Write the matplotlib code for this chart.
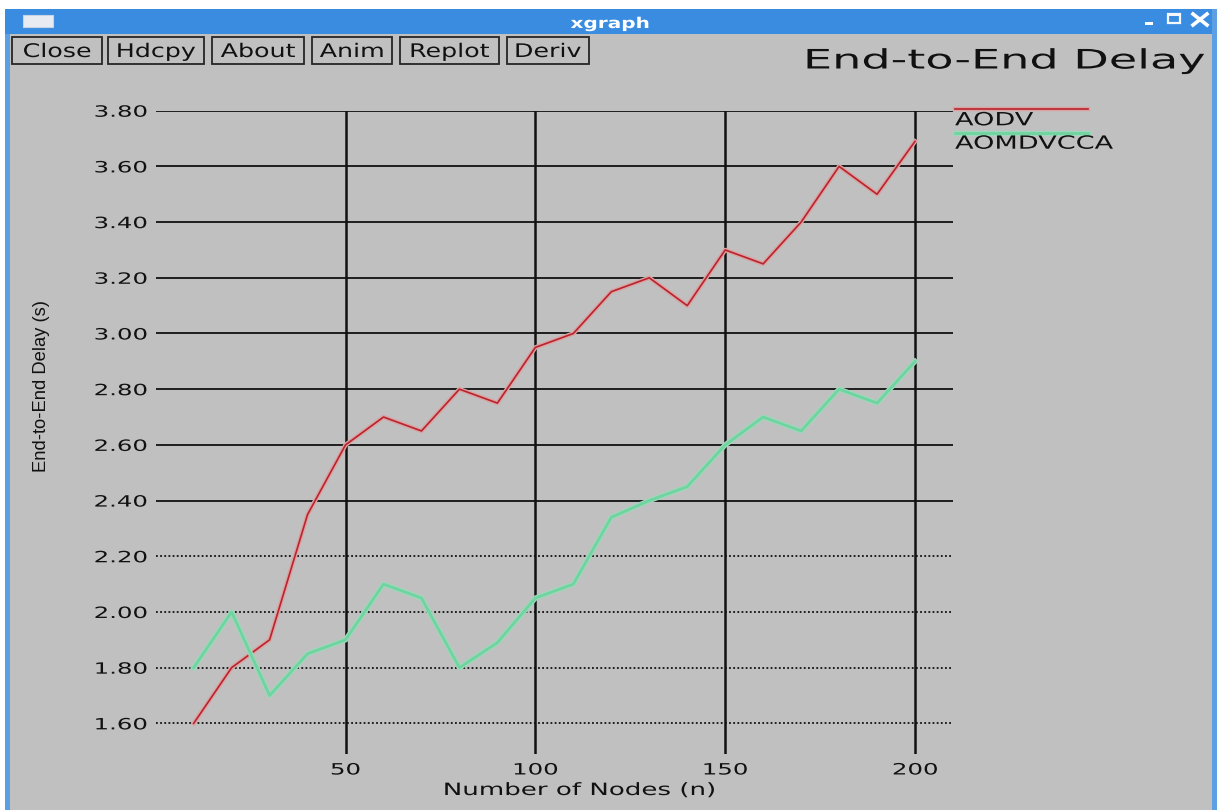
import matplotlib
matplotlib.use("Agg")
import matplotlib.pyplot as plt
from matplotlib import patheffects
from matplotlib.lines import Line2D
from matplotlib.patches import Rectangle
from matplotlib.transforms import Affine2D

# delay results per protocol
nodes = [10, 20, 30, 40, 50, 60, 70, 80, 90, 100,
         110, 120, 130, 140, 150, 160, 170, 180, 190, 200]
aodv = [1.60, 1.80, 1.90, 2.35, 2.60, 2.70, 2.65, 2.80, 2.75, 2.95,
        3.00, 3.15, 3.20, 3.10, 3.30, 3.25, 3.40, 3.60, 3.50, 3.69]
aomdvcca = [1.80, 2.00, 1.70, 1.85, 1.90, 2.10, 2.05, 1.80, 1.89, 2.05,
            2.10, 2.34, 2.40, 2.45, 2.60, 2.70, 2.65, 2.80, 2.75, 2.90]
series_names = ["AODV", "AOMDVCCA"]

yticks = [1.60, 1.80, 2.00, 2.20, 2.40, 2.60, 2.80, 3.00, 3.20, 3.40, 3.60, 3.80]
ytick_labels = ["%.2f" % v for v in yticks]
xticks = [50, 100, 150, 200]
xtick_labels = ["50", "100", "150", "200"]
buttons = ["Close", "Hdcpy", "About", "Anim", "Replot", "Deriv"]

W, H = 1217, 810
GRAY = "#c0c0c0"
RED = "#b8232d"
GREEN = "#6fd4a0"
INK = "#111111"


class Widen(patheffects.AbstractPathEffect):
    """Draw the glyphs of a text stretched sideways (xgraph's wide X font)."""

    def __init__(self, sx, anchor="left"):
        super().__init__()
        self.sx = sx
        self.anchor = anchor

    def draw_path(self, renderer, gc, tpath, affine, rgbFace=None):
        ext = tpath.get_extents()
        x0 = {"left": 0.0, "center": (ext.x0 + ext.x1) / 2, "right": ext.x1}[self.anchor]
        t = Affine2D().translate(-x0, 0).scale(self.sx, 1).translate(x0, 0)
        renderer.draw_path(gc, tpath, t + affine, rgbFace)


fig = plt.figure(figsize=(W / 100, H / 100), dpi=100, facecolor="white")
# pixel coordinates, origin at the top-left corner of the window
pix = Affine2D().scale(1 / W, -1 / H).translate(0, 1) + fig.transFigure


def box(x0, y0, x1, y1, z=-2, **kw):
    fig.add_artist(Rectangle((x0, y0), x1 - x0, y1 - y0, transform=pix, zorder=z, **kw))


def label(x, y, s, size, sx, ha="left", **kw):
    t = fig.text(x, y, s, transform=pix, fontsize=size, ha=ha, va="baseline",
                 family="DejaVu Sans", **kw)
    t.set_path_effects([Widen(sx, ha)])
    return t


# window frame, title bar and client area
box(5, 9, W, H, facecolor="#5d9fe3", edgecolor="none", z=-3)
box(5, 9, 1212, 34, facecolor="#3a8ce0", edgecolor="none")
box(10, 34, 1212, H, facecolor=GRAY, edgecolor="none")
box(23, 15, 53, 27, facecolor="#e8ecf2", edgecolor="#c8d4e4", lw=0.8, z=-1)
label(610, 28, "xgraph", 10.7, 1.35, ha="center", color="white", fontweight="bold")

# minimise / maximise / close
box(1145, 22, 1153, 25, facecolor="white", edgecolor="none", z=-1)
box(1168, 14, 1180, 23, facecolor="none", edgecolor="#f4f7fb", lw=1.6, z=-1)
box(1168, 14, 1180, 16, facecolor="#f4f7fb", edgecolor="none", z=-1)
fig.add_artist(Line2D([1193, 1207], [14, 25], transform=pix, color="white", lw=2.6))
fig.add_artist(Line2D([1193, 1207], [25, 14], transform=pix, color="white", lw=2.6))

# button row
button_left = [12, 108, 212, 312, 400, 507]
button_right = [102, 204, 304, 392, 499, 589]
for name, x0, x1 in zip(buttons, button_left, button_right):
    box(x0, 37, x1, 64, facecolor=GRAY, edgecolor="#262626", lw=1.3, z=-1)
    label((x0 + x1) / 2, 57, name, 13.5, 1.35, ha="center", color=INK)

label(803, 68.5, "End-to-End Delay", 19.3, 1.72, color=INK)

# plotting area
ax = fig.add_axes([155.7 / W, 1 - 754 / H, 797.3 / W, (754 - 110.7) / H])
ax.set_facecolor("none")
for s in ax.spines.values():
    s.set_visible(False)
ax.set_xlim(0, 210)
ax.set_ylim(1.49, 3.80)

for y in yticks:
    ls = "-" if y >= 2.4 else (0, (1, 1.3))
    ax.axhline(y, color=INK, lw=1.3, ls=ls, zorder=1)
for x in xticks:
    ax.axvline(x, color=INK, lw=1.8, zorder=1)

red_fx = [patheffects.Stroke(linewidth=3.2, foreground="#dba2a2"), patheffects.Normal()]
green_fx = [patheffects.Stroke(linewidth=3.8, foreground="#9ed8ba"), patheffects.Normal()]
ax.plot(nodes, aodv, color=RED, lw=1.2, path_effects=red_fx, zorder=3)
ax.plot(nodes, aomdvcca, color=GREEN, lw=2.0, path_effects=green_fx, zorder=3)

ax.set_yticks(yticks, labels=ytick_labels)
ax.set_xticks(xticks, labels=xtick_labels)
ax.tick_params(length=0, labelsize=11.2, labelcolor=INK)
ax.tick_params(axis="y", pad=6.3)
ax.tick_params(axis="x", pad=6.1)
for t in ax.get_yticklabels():
    t.set_path_effects([Widen(1.57, "right")])
for t in ax.get_xticklabels():
    t.set_path_effects([Widen(1.57, "center")])

ax.set_xlabel("Number of Nodes (n)", fontsize=12.2, color=INK)
ax.xaxis.label.set_va("baseline")
ax.xaxis.label.set_path_effects([Widen(1.54, "center")])
ax.xaxis.set_label_coords((579 - 155.7) / 797.3, -(795 - 754) / (754 - 110.7))

ax.set_ylabel("End-to-End Delay (s)", fontsize=13.2, color=INK, family="Liberation Sans")
ax.yaxis.label.set_va("center")
ax.yaxis.set_label_coords((42 - 155.7) / 797.3, (754 - 386) / (754 - 110.7))

# legend: a coloured bar above each name
for name, color, fx, lw, y in [(series_names[0], RED, red_fx, 1.2, 109.3),
                               (series_names[1], GREEN, green_fx, 2.0, 132.7)]:
    fig.add_artist(Line2D([955, 1088], [y, y], transform=pix, color=color, lw=lw,
                          path_effects=fx))
    label(955, y + 16, name, 13.1, 1.49, color=INK)

fig.savefig("out.png", dpi=100, facecolor=fig.get_facecolor())
